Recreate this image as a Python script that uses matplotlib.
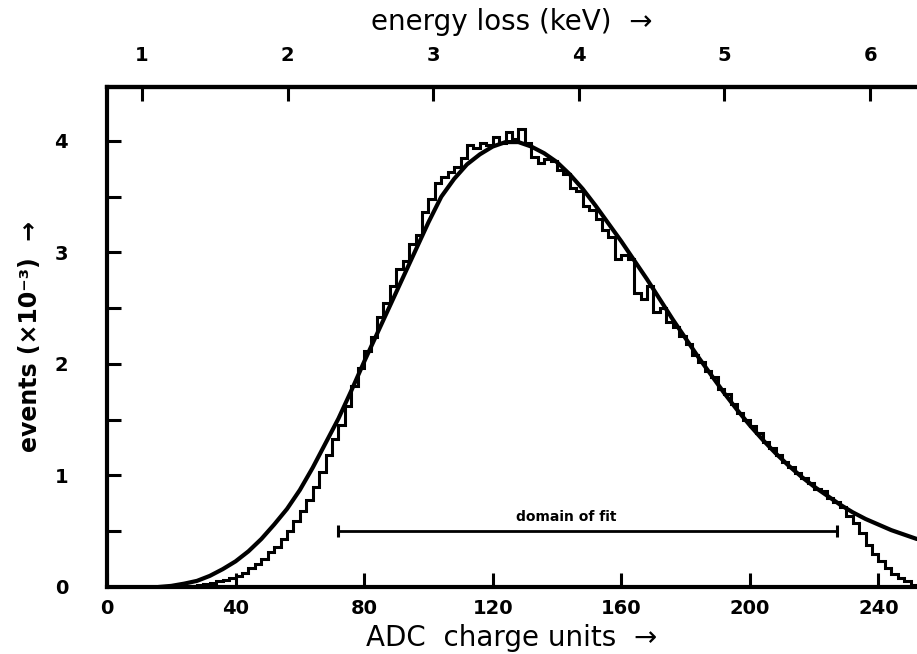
import numpy as np
import matplotlib
matplotlib.use("Agg")
import matplotlib.pyplot as plt

plt.rcParams['font.family'] = ['DejaVu Sans']

# ---- data ----
# fitted curve (ADC charge units, events x10^-3)
fit_x = [16, 20, 24, 28, 32, 36, 40, 44, 48, 52, 56, 60, 64, 68, 72, 76, 80, 84, 88, 92,
         96, 100, 104, 108, 112, 116, 120, 124, 128, 132, 136, 140, 144, 148, 152, 156,
         160, 164, 168, 172, 176, 180, 184, 188, 192, 196, 200, 204, 208, 212, 216, 220,
         224, 228, 232, 236, 240, 244, 248, 252]
fit_y = [0.00, 0.01, 0.03, 0.055, 0.10, 0.16, 0.23, 0.32, 0.43, 0.56, 0.70, 0.87, 1.07, 1.29,
         1.51, 1.76, 2.02, 2.27, 2.52, 2.77, 3.02, 3.27, 3.50, 3.66, 3.79, 3.88, 3.95, 3.99,
         3.99, 3.95, 3.89, 3.81, 3.70, 3.57, 3.42, 3.26, 3.10, 2.93, 2.76, 2.58, 2.40, 2.23,
         2.06, 1.90, 1.74, 1.59, 1.45, 1.32, 1.20, 1.09, 0.99, 0.90, 0.82, 0.74, 0.67, 0.61,
         0.56, 0.51, 0.47, 0.43]

# measured histogram: bin left edges (width 2 ADC units) and counts
hist_edges_start = 20
hist_bin_width = 2
hist_counts = [0.00, 0.00, 0.01, 0.01, 0.02, 0.03, 0.04, 0.05, 0.06, 0.08,   # 20-38
               0.10, 0.13, 0.17, 0.21, 0.25, 0.31, 0.36, 0.43, 0.50, 0.59,   # 40-58
               0.68, 0.78, 0.90, 1.03, 1.18, 1.33, 1.45, 1.62, 1.80, 1.96,   # 60-78
               2.12, 2.24, 2.42, 2.55, 2.70, 2.85, 2.92, 3.08, 3.16, 3.36,   # 80-98
               3.48, 3.62, 3.68, 3.72, 3.77, 3.85, 3.96, 3.94, 3.98, 3.96,   # 100-118
               4.04, 3.98, 4.08, 4.02, 4.11, 3.98, 3.86, 3.80, 3.84, 3.82,   # 120-138
               3.74, 3.70, 3.58, 3.55, 3.42, 3.38, 3.30, 3.20, 3.14, 2.94,   # 140-158
               2.98, 2.94, 2.64, 2.58, 2.70, 2.47, 2.50, 2.38, 2.33, 2.25,   # 160-178
               2.18, 2.08, 2.02, 1.94, 1.88, 1.78, 1.73, 1.64, 1.56, 1.50,   # 180-198
               1.44, 1.38, 1.30, 1.25, 1.18, 1.12, 1.08, 1.02, 0.98, 0.93,   # 200-218
               0.88, 0.86, 0.80, 0.76, 0.72, 0.64, 0.57, 0.48, 0.38, 0.30,   # 220-238
               0.23, 0.17, 0.12, 0.08, 0.05, 0.02]                           # 240-250

fit_domain = [72, 227]
fit_domain_y = 0.5
fit_label_x = 143

x_ticks = [0, 40, 80, 120, 160, 200, 240]
y_ticks = [0, 1, 2, 3, 4]
y_minor = [0.5, 1.5, 2.5, 3.5]
kev_ticks = [1, 2, 3, 4, 5, 6]
# energy calibration: ADC = a*keV + b
kev_a = 45.3
kev_b = -34.4

# ---- figure ----
fig = plt.figure(figsize=(9.17, 6.54), dpi=100)
ax = fig.add_axes([107/917, 1 - 587/654, 1 - 107/917, (587 - 87)/654])

edges = hist_edges_start + hist_bin_width * np.arange(len(hist_counts) + 1)
ax.stairs(hist_counts, edges, color='black', lw=2.2, baseline=None)
ax.plot(fit_x, fit_y, color='black', lw=3.0, solid_capstyle='round')

ax.plot(fit_domain, [fit_domain_y] * 2, color='black', lw=2.0)
ax.plot(fit_domain, [fit_domain_y] * 2, ls='none', marker='|', ms=9, mew=2.2, color='black')
ax.text(fit_label_x, fit_domain_y + 0.13, 'domain of fit', ha='center', va='center',
        fontsize=10, fontweight='bold')

ax.set_xlim(0, 252)
ax.set_ylim(0, 4.484)

for s in ['left', 'bottom', 'top']:
    ax.spines[s].set_linewidth(3)
ax.spines['right'].set_visible(False)

ax.set_xticks(x_ticks)
ax.set_yticks(y_ticks)
ax.set_yticks(y_minor, minor=True)
ax.tick_params(axis='both', which='both', direction='in', width=2.2, labelsize=14)
ax.tick_params(axis='x', which='major', length=10, pad=9, top=False)
ax.tick_params(axis='y', which='major', length=10, pad=28, right=False)
ax.tick_params(axis='y', which='minor', length=10, right=False)
for lab in ax.get_xticklabels() + ax.get_yticklabels():
    lab.set_fontweight('bold')

ax.set_xlabel('ADC  charge units  →', fontsize=20, labelpad=4)
ax.set_ylabel('events (×10⁻³)  →', fontsize=17, fontweight='bold', labelpad=9)

# top energy axis
top = ax.secondary_xaxis('top', functions=(lambda x: (x - kev_b) / kev_a,
                                           lambda k: kev_a * k + kev_b))
top.set_xticks(kev_ticks)
top.tick_params(direction='in', length=10, width=2.2, labelsize=14, pad=16)
for lab in top.get_xticklabels():
    lab.set_fontweight('bold')
top.spines['top'].set_linewidth(3)
top.set_xlabel('energy loss (keV)  →', fontsize=20, labelpad=11)

fig.savefig('out.png', dpi=100)
